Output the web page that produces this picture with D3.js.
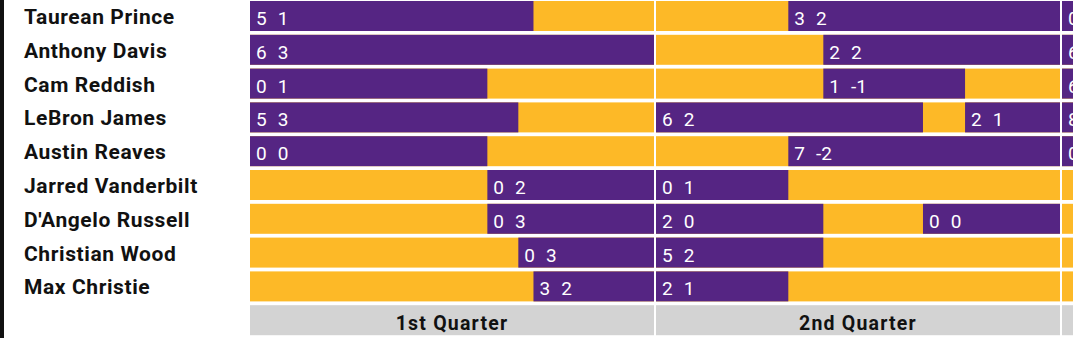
<!DOCTYPE html>
<html>
<head>
<meta charset="utf-8">
<script src="https://cdn.jsdelivr.net/npm/d3@7"></script>
<style>
  html, body { margin: 0; padding: 0; background: #ffffff; overflow: hidden; }
  svg { display: block; }
</style>
</head>
<body>
<svg id="chart" width="1073" height="338"></svg>
<script>
// ---- data ----
const players = ["Taurean Prince", "Anthony Davis", "Cam Reddish", "LeBron James", "Austin Reaves",
                 "Jarred Vanderbilt", "D'Angelo Russell", "Christian Wood", "Max Christie"];
const quarters = ["1st Quarter", "2nd Quarter", "3rd Quarter"];
// stints: [player, quarter, start minute, end minute, points, plus/minus]
const stints = [
  ["Taurean Prince", 0, 0, 8.42, 5, 1],
  ["Anthony Davis", 0, 0, 12, 6, 3],
  ["Cam Reddish", 0, 0, 7.05, 0, 1],
  ["LeBron James", 0, 0, 7.97, 5, 3],
  ["Austin Reaves", 0, 0, 7.05, 0, 0],
  ["Jarred Vanderbilt", 0, 7.05, 12, 0, 2],
  ["D'Angelo Russell", 0, 7.05, 12, 0, 3],
  ["Christian Wood", 0, 7.97, 12, 0, 3],
  ["Max Christie", 0, 8.42, 12, 3, 2],
  ["Taurean Prince", 1, 3.93, 12, 3, 2],
  ["Anthony Davis", 1, 4.97, 12, 2, 2],
  ["Cam Reddish", 1, 4.97, 9.18, 1, -1],
  ["LeBron James", 1, 0, 7.93, 6, 2],
  ["LeBron James", 1, 9.18, 12, 2, 1],
  ["Austin Reaves", 1, 3.93, 12, 7, -2],
  ["Jarred Vanderbilt", 1, 0, 3.93, 0, 1],
  ["D'Angelo Russell", 1, 0, 4.97, 2, 0],
  ["D'Angelo Russell", 1, 7.93, 12, 0, 0],
  ["Christian Wood", 1, 0, 4.97, 5, 2],
  ["Max Christie", 1, 0, 3.93, 2, 1],
  ["Taurean Prince", 2, 0, 12, 0, 0],
  ["Anthony Davis", 2, 0, 12, 6, 0],
  ["Cam Reddish", 2, 0, 12, 6, 0],
  ["LeBron James", 2, 0, 12, 8, 0],
  ["Austin Reaves", 2, 0, 12, 0, 0]
];
const headerKey = "__header__";

// ---- styles ----
const PURPLE = "#552583", GOLD = "#FDB927", GREY = "#d3d3d3";

const svg = d3.select("#chart");

svg.append("rect").attr("x", 0).attr("y", 0).attr("width", 4).attr("height", 338).attr("fill", "#111");

const xq = d3.scaleBand().domain(quarters).range([250, 250 + 406 * quarters.length - 2]).paddingInner(2 / 406).paddingOuter(0);
const y = d3.scaleBand().domain([...players, headerKey]).range([1, 335.2]).paddingInner(3.8 / 33.8).paddingOuter(0);

function xMin(q) {
  const x0 = xq(quarters[q]);
  return d3.scaleLinear().domain([0, 12]).range([x0, x0 + xq.bandwidth()]);
}

// player names
svg.append("g").selectAll("text").data(players).join("text")
  .attr("x", 24)
  .attr("y", d => y(d) + y.bandwidth() / 2 + 8)
  .attr("font-family", "Roboto, sans-serif")
  .attr("font-weight", "bold")
  .attr("font-size", 21)
  .attr("letter-spacing", 0.6)
  .attr("fill", "#111")
  .text(d => d);

// bench background cells
const cells = [];
players.forEach(p => quarters.forEach(q => cells.push({p, q})));
svg.append("g").selectAll("rect").data(cells).join("rect")
  .attr("x", d => xq(d.q))
  .attr("y", d => y(d.p))
  .attr("width", xq.bandwidth())
  .attr("height", y.bandwidth())
  .attr("fill", GOLD);

// stints
const sg = svg.append("g");
sg.selectAll("rect").data(stints).join("rect")
  .attr("x", d => xMin(d[1])(d[2]))
  .attr("y", d => y(d[0]))
  .attr("width", d => xMin(d[1])(d[3]) - xMin(d[1])(d[2]))
  .attr("height", y.bandwidth())
  .attr("fill", PURPLE);

const labels = sg.selectAll("text").data(stints).join("text")
  .attr("x", d => xMin(d[1])(d[2]) + 6)
  .attr("y", d => y(d[0]) + y.bandwidth() / 2 + 9)
  .attr("font-family", "Roboto, sans-serif")
  .attr("font-size", 19)
  .attr("fill", "#fff");
labels.append("tspan").text(d => d[4]);
labels.append("tspan").attr("dx", 11).text(d => d[5]);

// quarter headers
const hg = svg.append("g");
hg.selectAll("rect").data(quarters).join("rect")
  .attr("x", d => xq(d))
  .attr("y", y(headerKey))
  .attr("width", xq.bandwidth())
  .attr("height", y.bandwidth())
  .attr("fill", GREY);
hg.selectAll("text").data(quarters).join("text")
  .attr("x", d => xq(d) + xq.bandwidth() / 2)
  .attr("y", y(headerKey) + y.bandwidth() / 2 + 9.5)
  .attr("text-anchor", "middle")
  .attr("font-family", "Roboto, sans-serif")
  .attr("font-weight", "bold")
  .attr("font-size", 19.5)
  .attr("letter-spacing", 1.2)
  .attr("fill", "#111")
  .text(d => d);
</script>
</body>
</html>
